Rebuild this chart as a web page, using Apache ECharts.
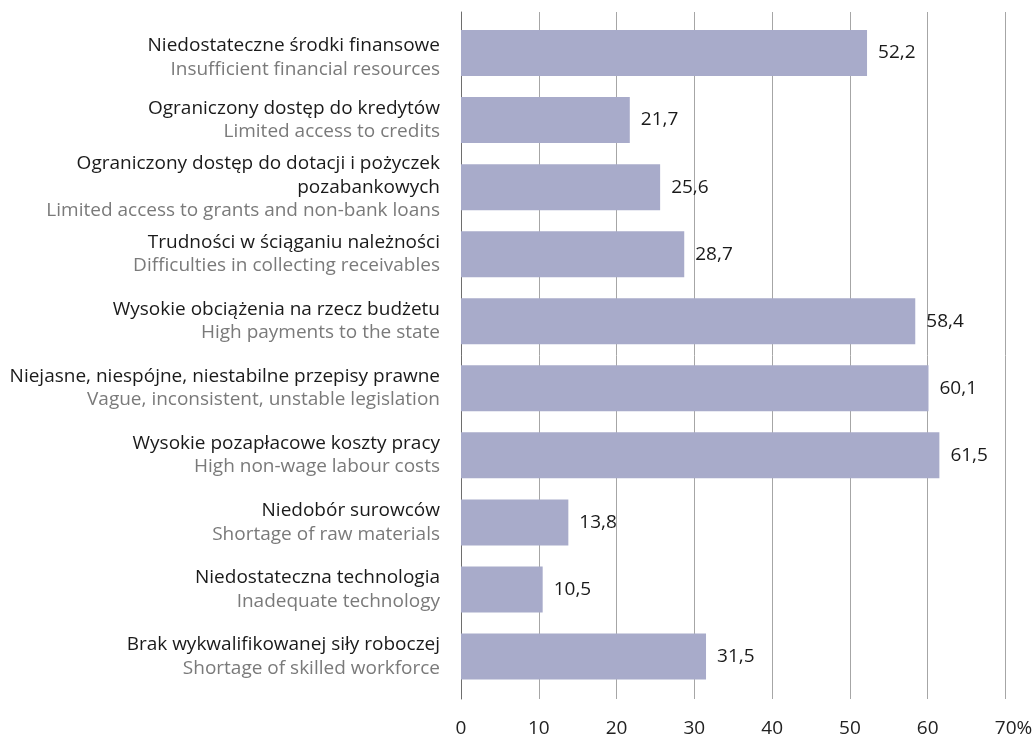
<!DOCTYPE html>
<html><head><meta charset="utf-8">
<script src="https://cdn.jsdelivr.net/npm/echarts@6/dist/echarts.min.js"></script>
<style>html,body{margin:0;padding:0;background:#fff}#c{width:1036px;height:738px}</style>
</head><body><div id="c"></div>
<script>
const categoriesPl = [
  'Niedostateczne środki finansowe',
  'Ograniczony dostęp do kredytów',
  'Ograniczony dostęp do dotacji i pożyczek\npozabankowych',
  'Trudności w ściąganiu należności',
  'Wysokie obciążenia na rzecz budżetu',
  'Niejasne, niespójne, niestabilne przepisy prawne',
  'Wysokie pozapłacowe koszty pracy',
  'Niedobór surowców',
  'Niedostateczna technologia',
  'Brak wykwalifikowanej siły roboczej'
];
const categoriesEn = [
  'Insufficient financial resources',
  'Limited access to credits',
  'Limited access to grants and non-bank loans',
  'Difficulties in collecting receivables',
  'High payments to the state',
  'Vague, inconsistent, unstable legislation',
  'High non-wage labour costs',
  'Shortage of raw materials',
  'Inadequate technology',
  'Shortage of skilled workforce'
];
const values = [52.2, 21.7, 25.6, 28.7, 58.4, 60.1, 61.5, 13.8, 10.5, 31.5];
const xTicks = ['0','10','20','30','40','50','60','70%'];

const FONT = '"Open Sans", "Noto Sans", sans-serif';
const FS = 19;
const labels = categoriesPl.map((pl, i) => {
  const txt = pl.split('\n').map(s => '{a|' + s + '}').join('\n') + '\n{b|' + categoriesEn[i] + '}';
  return i === 0 ? { value: txt, textStyle: { padding: [9, 0, 0, 0] } } : txt;
});

const chart = echarts.init(document.getElementById('c'));
chart.setOption({
  animation: false,
  textStyle: { fontFamily: FONT },
  grid: [
    { left: 461, right: 30.5, top: 12, bottom: 38 },
    { left: 461, right: 30.5, top: 19.5, bottom: 48 }
  ],
  xAxis: [
    { gridIndex: 0, type: 'value', min: 0, max: 70, interval: 10,
      axisLine: { show: false }, axisTick: { show: false },
      splitLine: { show: true, lineStyle: { color: '#a6a6a6', width: 1 } },
      axisLabel: { color: '#222', fontSize: FS, fontFamily: FONT, margin: 20,
        formatter: (v) => {
          const t = xTicks[Math.round(v / 10)];
          return t.endsWith('%') ? '{sp|}' + t : t;
        },
        rich: { sp: { width: 16 } } } },
    { gridIndex: 1, type: 'value', min: 0, max: 70, interval: 10, show: false }
  ],
  yAxis: [
    { gridIndex: 0, type: 'value', min: 0, max: 1, show: true,
      axisLine: { show: true, lineStyle: { color: '#6e6e6e', width: 1 } },
      axisTick: { show: false }, axisLabel: { show: false }, splitLine: { show: false } },
    { gridIndex: 1, type: 'category', data: labels, inverse: true,
      axisLine: { show: false }, axisTick: { show: false },
      axisLabel: { margin: 21, align: 'right',
        rich: {
          a: { color: '#1a1a1a', fontSize: FS, fontFamily: FONT, lineHeight: 23.5, align: 'right' },
          b: { color: '#7a7a7a', fontSize: FS, fontFamily: FONT, lineHeight: 23.5, align: 'right' }
        } } }
  ],
  series: [{
    type: 'bar', xAxisIndex: 1, yAxisIndex: 1, data: values, barWidth: 46,
    itemStyle: { color: '#a8abca' },
    label: { show: true, position: 'right', distance: 11, color: '#1a1a1a', fontSize: FS,
      fontFamily: FONT, formatter: (p) => p.value.toFixed(1).replace('.', ',') }
  }]
});
</script></body></html>
